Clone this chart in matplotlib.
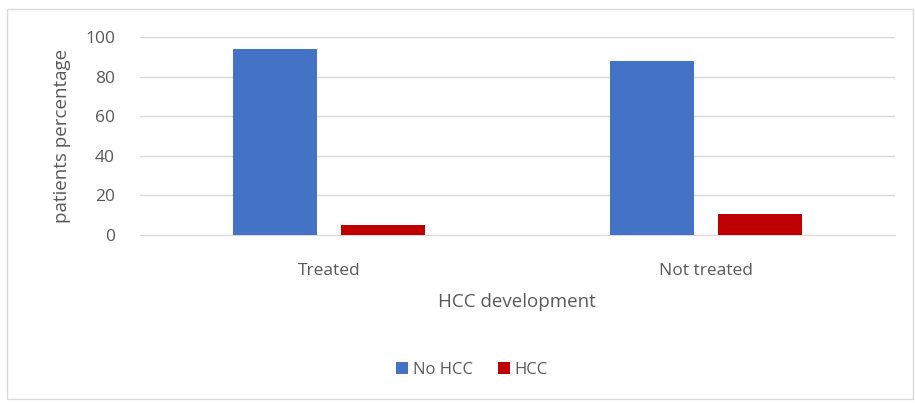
import matplotlib
matplotlib.use("Agg")
import matplotlib.pyplot as plt
from matplotlib.patches import Rectangle
import numpy as np

categories = ["Treated", "Not treated"]
series_names = ["No HCC", "HCC"]
no_hcc = [94, 88]
hcc = [5, 10.5]
yticks = [0, 20, 40, 60, 80, 100]

plt.rcParams['font.family'] = ['Open Sans', 'DejaVu Sans']
txt = '#595959'

fig = plt.figure(figsize=(9.15, 4.03), dpi=100)
W, H = 915, 403
ax = fig.add_axes([140 / W, 1 - 235 / H, 755 / W, (235 - 37) / H])

x = np.arange(len(categories))
bw = 0.223
off = 0.143
ax.bar(x - off, no_hcc, bw, color='#4472C4', label=series_names[0], zorder=3)
ax.bar(x + off, hcc, bw, color='#C00000', label=series_names[1], zorder=3)

ax.set_xlim(-0.5, 1.5)
ax.set_ylim(0, 100)
ax.set_yticks(yticks)
ax.set_xticks(x)
ax.set_xticklabels(categories)
ax.tick_params(axis='both', length=0, colors=txt, labelsize=12.5)
ax.tick_params(axis='x', pad=20)
ax.tick_params(axis='y', pad=18)
ax.grid(axis='y', color='#D9D9D9', linewidth=1, zorder=0)
for s in ['top', 'right', 'left']:
    ax.spines[s].set_visible(False)
ax.spines['bottom'].set_color('#D9D9D9')

ax.set_ylabel("patients percentage", color=txt, fontsize=13.5, labelpad=10)
fig.text(517 / W, 1 - 302 / H, "HCC development", color=txt, fontsize=13.5,
         ha='center', va='center')

leg = fig.legend(loc='center', bbox_to_anchor=(472 / W, 1 - 370 / H), ncol=2,
                 frameon=False, fontsize=12, handlelength=0.7, handleheight=0.7,
                 handletextpad=0.3, columnspacing=1.5)
for t in leg.get_texts():
    t.set_color(txt)

fig.patches.append(Rectangle((7 / W, 1 - 399 / H), 906 / W, 390 / H,
                             transform=fig.transFigure, fill=False,
                             edgecolor='#D9D9D9', linewidth=1))

fig.savefig("out.png", dpi=100)
